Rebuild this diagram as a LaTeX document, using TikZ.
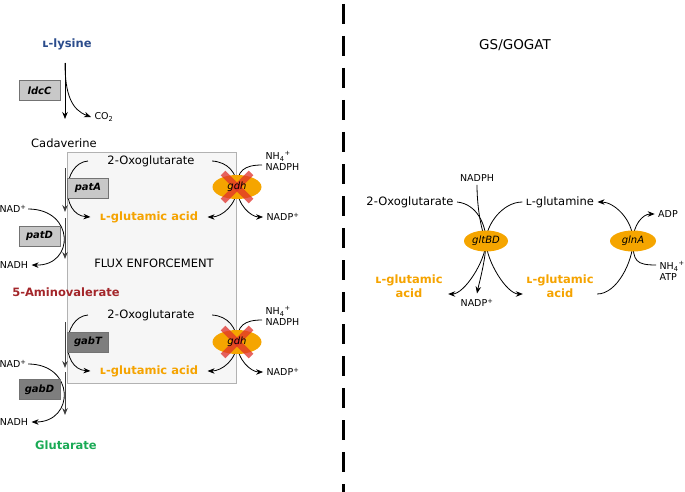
\documentclass[tikz,border=0pt]{standalone}
\usepackage{fontspec}
\setmainfont{DejaVu Sans}
\usepackage{xcolor}
\usepackage{tikz}
\usetikzlibrary{arrows.meta,positioning,shapes.geometric,backgrounds}
\definecolor{lysblue}{HTML}{2B4C8C}
\definecolor{amired}{HTML}{A3262A}
\definecolor{glugreen}{HTML}{1AAA55}
\definecolor{gluorange}{HTML}{F5A300}
\definecolor{enzorange}{HTML}{F5A500}
\definecolor{boxlight}{HTML}{C8C8C8}
\definecolor{boxdark}{HTML}{7E7E7E}
\definecolor{fluxfill}{HTML}{F6F6F6}
\definecolor{crossred}{HTML}{E0302A}

\begin{document}
\begin{tikzpicture}[
  x=1pt, y=-1pt,
  font=\fontsize{11.5}{13.5}\selectfont,
  small/.style={font=\fontsize{9.5}{11}\selectfont},
  gene/.style={draw=black!55, rectangle, minimum width=41pt, minimum height=20pt,
               inner sep=0pt, font=\fontsize{10}{11}\selectfont\bfseries\itshape},
  genelt/.style={gene, fill=boxlight},
  genedk/.style={gene, fill=boxdark},
  enz/.style={ellipse, fill=enzorange, inner sep=0pt,
              font=\fontsize{10}{11}\selectfont\itshape},
  enzlbl/.style={font=\fontsize{10}{11}\selectfont\itshape},
  glu/.style={text=gluorange, font=\fontsize{11.5}{14.5}\selectfont\bfseries, align=center},
  arr/.style={-{Stealth[length=7pt,width=5.5pt]}, line width=0.8pt},
  conn/.style={line width=0.8pt},
  vline/.style={-{Stealth[length=7pt,width=5.5pt]}, line width=0.9pt, black!75},
  crossx/.style={crossred, opacity=0.75, line width=6.5pt}
]
  \useasboundingbox (0,0) rectangle (685,492);

  % left: lysine to glutarate
  \node[text=lysblue, font=\fontsize{11.5}{13}\selectfont\bfseries] (lys) at (67,44) {ʟ-lysine};
  \node[genelt] (ldcC) at (39.5,90.5) {ldcC};
  \node[small] (co2) at (104,117) {CO\textsubscript{2}};
  \node (cad) at (64,143) {Cadaverine};
  \coordinate (lysTop) at (65,63);
  \coordinate (cadTop) at (65,119);

  \node (oxoA) at (151,161) {2-Oxoglutarate};
  \node[glu] (gluA) at (149,217) {ʟ-glutamic acid};
  \node[genelt] (patA) at (88,188) {patA};
  \node[small] (nadA) at (13,209) {NAD\textsuperscript{+}};
  \node[small] (nadhA) at (14,265) {NADH};
  \node[genelt] (patD) at (39.5,236) {patD};
  \node (flux) at (154,263) {FLUX ENFORCEMENT};
  \node[enz, minimum width=49pt, minimum height=24pt] (gdhA) at (237,187) {};
  \node[small, align=left, anchor=west] (nhA) at (262,161) {NH\textsubscript{4}\textsuperscript{+}\\NADPH};
  \node[small] (nadpA) at (283,217) {NADP\textsuperscript{+}};

  \node[text=amired, font=\fontsize{11.5}{13}\selectfont\bfseries] (ami) at (66,292) {5-Aminovalerate};

  \node (oxoB) at (151,315) {2-Oxoglutarate};
  \node[glu] (gluB) at (149,371) {ʟ-glutamic acid};
  \node[genedk] (gabT) at (88,342) {gabT};
  \node[small] (nadB) at (13,364) {NAD\textsuperscript{+}};
  \node[small] (nadhB) at (14,422) {NADH};
  \node[genedk] (gabD) at (39.5,389.5) {gabD};
  \node[enz, minimum width=49pt, minimum height=24pt] (gdhB) at (237,342) {};
  \node[small, align=left, anchor=west] (nhB) at (262,316) {NH\textsubscript{4}\textsuperscript{+}\\NADPH};
  \node[small] (nadpB) at (283,372) {NADP\textsuperscript{+}};

  \node[text=glugreen, font=\fontsize{11.5}{13}\selectfont\bfseries] (glut) at (66,445) {Glutarate};

  % knocked-out gdh
  \foreach \g in {gdhA,gdhB} {
    \draw[crossx] ([shift={(-14,-14)}]\g.center) -- ++(28,28);
    \draw[crossx] ([shift={(14,-14)}]\g.center) -- ++(-28,28);
    \node[enzlbl] (\g lbl) at (\g.center) {gdh};
  }

  % right: GS/GOGAT
  \node[font=\fontsize{13.5}{15}\selectfont] (gsg) at (515,45) {GS/GOGAT};
  \node (oxoR) at (410,202) {2-Oxoglutarate};
  \node[small] (nadphR) at (477,178) {NADPH};
  \node (gln) at (560,202) {ʟ-glutamine};
  \node[small] (adp) at (668,214) {ADP};
  \node[small, align=left, anchor=west] (nhR) at (656,271) {NH\textsubscript{4}\textsuperscript{+}\\ATP};
  \node[glu] (gluL) at (409,286) {ʟ-glutamic\\acid};
  \node[small] (nadpR) at (477,303) {NADP\textsuperscript{+}};
  \node[glu] (gluM) at (560,286) {ʟ-glutamic\\acid};
  \node[enz, minimum width=44pt, minimum height=21pt] (gltBD) at (486,241) {gltBD};
  \node[enz, minimum width=46pt, minimum height=21pt] (glnA) at (633,241) {glnA};

  \draw[line width=3pt, dash pattern=on 20pt off 12pt] (343,4) -- (343,492);

  \begin{pgfonlayer}{background}
    \node[draw=black!30, fill=fluxfill, minimum width=169pt, minimum height=231pt,
          inner sep=0pt] (fluxbox) at (151.5,267.5) {};
    \draw[arr] (lysTop) -- (cadTop);
    \draw[arr] (lysTop) .. controls (65,95) and (72,110) .. (co2.west);
    % transaminases and dehydrogenases
    \draw[vline] (65,168) -- (65,212);
    \draw[vline] (65,218) -- (65,259);
    \draw[vline] (65,322) -- (65,368);
    \draw[vline] (65,372) -- (65,415);
    \draw[arr] ([xshift=-16pt]oxoA.west) .. controls (62,163) and (60,215) .. ([xshift=-6pt]gluA.west);
    \draw[arr] ([xshift=-2pt]nadA.east) .. controls (75,209) and (75,266) .. (nadhA.east);
    \draw[arr] ([xshift=-16pt]oxoB.west) .. controls (62,317) and (60,369) .. ([xshift=-6pt]gluB.west);
    \draw[arr] ([xshift=-2pt]nadB.east) .. controls (75,364) and (75,422) .. (nadhB.east);
    % gdh
    \foreach \g/\o/\u/\n/\p in {gdhA/oxoA/gluA/nhA/nadpA, gdhB/oxoB/gluB/nhB/nadpB} {
      \draw[conn] ([xshift=14pt]\o.east) .. controls +(16,1) and +(0,-14) .. (\g.center);
      \draw[arr] (\g.center) .. controls +(0,18) and +(14,0) .. ([xshift=6pt]\u.east);
      \draw[conn] ([yshift=-4pt]\n.west) .. controls +(-18,0) and +(0,-16) .. (\g.center);
      \draw[arr] (\g.center) .. controls +(0,18) and +(-12,0) .. (\p.west);
    }
    % GOGAT
    \draw[conn] (oxoR.east) .. controls +(20,2) and +(0,-16) .. (gltBD.center);
    \draw[conn] (nadphR.south) .. controls +(0,18) and +(-6,-14) .. (gltBD.center);
    \draw[conn] (gln.west) .. controls +(-20,0) and +(0,-16) .. (gltBD.center);
    \draw[arr] (gltBD.center) .. controls +(0,20) and +(16,0) .. ([xshift=2pt,yshift=-8pt]gluL.east);
    \draw[arr] (gltBD.center) .. controls +(0,18) and +(2,-10) .. ([yshift=2pt]nadpR.north);
    \draw[arr] (gltBD.center) .. controls +(0,20) and +(-16,0) .. ([yshift=-8pt]gluM.west);
    % GS
    \draw[conn] ([yshift=-8pt]gluM.east) .. controls +(20,0) and +(0,20) .. (glnA.center);
    \draw[conn] ([yshift=6pt]nhR.west) .. controls +(-20,0) and +(0,20) .. (glnA.center);
    \draw[arr] (glnA.center) .. controls +(0,-22) and +(16,0) .. (gln.east);
    \draw[arr] (glnA.center) .. controls +(0,-16) and +(-12,0) .. (adp.west);
  \end{pgfonlayer}
\end{tikzpicture}
\end{document}
